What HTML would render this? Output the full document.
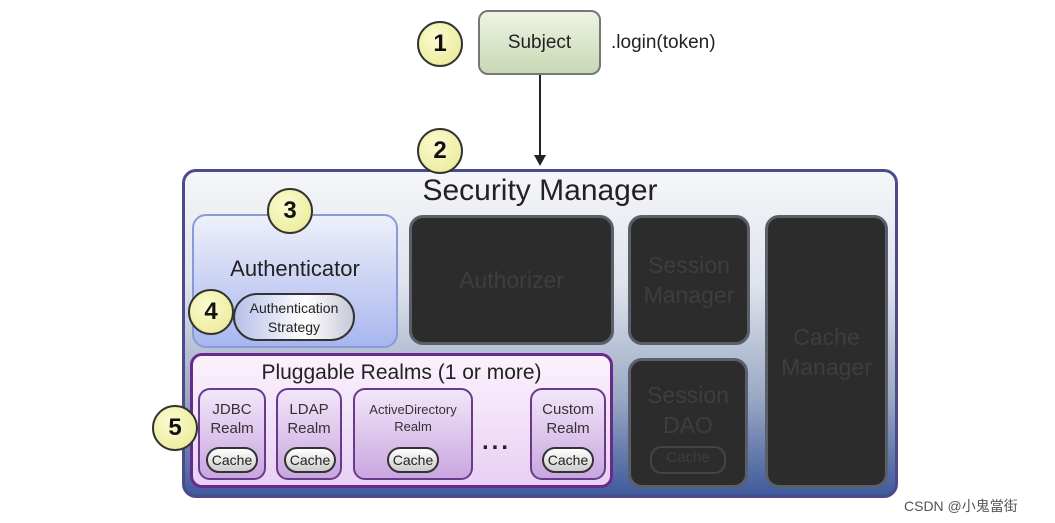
<!DOCTYPE html>
<html><head><style>
body{margin:0;width:1055px;height:523px;background:#fff;position:relative;overflow:hidden;font-family:"Liberation Sans",sans-serif;}
.a{position:absolute;box-sizing:border-box;}
.c{position:absolute;box-sizing:border-box;width:46px;height:46px;border-radius:50%;background:radial-gradient(circle at 40% 35%,#fbfbd0,#e8e890);border:2.5px solid #333;font-weight:bold;font-size:24px;display:flex;align-items:center;justify-content:center;color:#111;}
.dk{position:absolute;box-sizing:border-box;background:#2c2c2c;border:3px solid #5a5f6a;border-radius:14px;color:#3e3e3e;font-size:23px;text-align:center;display:flex;align-items:center;justify-content:center;line-height:30px;}
.r{position:absolute;box-sizing:border-box;border:2px solid #6a3a8a;border-radius:12px;background:linear-gradient(#f2e6f8,#c9a6e0);text-align:center;font-size:15px;color:#333;padding-top:10px;line-height:19px;}
.ch{position:absolute;box-sizing:border-box;height:26px;border:2px solid #333;border-radius:13px;background:linear-gradient(#fff,#ccc);font-size:14px;line-height:22px;text-align:center;color:#222;}
</style></head><body>
<div class="a" style="left:478px;top:10px;width:123px;height:65px;border:2px solid #777;border-radius:10px;background:linear-gradient(#eef4e4,#c8d8b4);font-size:19px;text-align:center;line-height:61px;color:#222">Subject</div>
<div class="c" style="left:417px;top:21px">1</div>
<div class="a" style="left:611px;top:32px;font-size:19px;color:#222">.login(token)</div>
<div class="a" style="left:539px;top:75px;width:2px;height:84px;background:#222"></div>
<div class="a" style="left:534px;top:155px;width:0;height:0;border-left:6px solid transparent;border-right:6px solid transparent;border-top:11px solid #222"></div>
<div class="a" style="left:182px;top:169px;width:716px;height:329px;border:3px solid #4a4a8c;border-radius:14px;background:linear-gradient(#f5f6f9 0%,#dfe3ec 35%,#9aa8c4 70%,#3f5a9c 100%)"></div>
<div class="c" style="left:417px;top:128px">2</div>
<div class="a" style="left:182px;top:174px;width:716px;text-align:center;font-size:30px;color:#222">Security Manager</div>
<div class="a" style="left:192px;top:214px;width:206px;height:134px;border:2px solid #8a9ad8;border-radius:14px;background:linear-gradient(#eef0fa,#a8b6ee)"></div>
<div class="a" style="left:192px;top:256px;width:206px;text-align:center;font-size:22px;color:#222">Authenticator</div>
<div class="c" style="left:267px;top:188px">3</div>
<div class="a" style="left:233px;top:293px;width:122px;height:48px;border:2px solid #333;border-radius:24px;background:linear-gradient(90deg,#b8c0e8,#fff 60%,#c8c8d8);font-size:14px;text-align:center;line-height:19px;padding-top:4px;color:#222">Authentication<br>Strategy</div>
<div class="c" style="left:188px;top:289px">4</div>
<div class="dk" style="left:409px;top:215px;width:205px;height:130px">Authorizer</div>
<div class="dk" style="left:628px;top:215px;width:122px;height:130px">Session<br>Manager</div>
<div class="dk" style="left:765px;top:215px;width:123px;height:273px">Cache<br>Manager</div>
<div class="dk" style="left:628px;top:358px;width:120px;height:130px;flex-direction:column;padding-top:8px">Session<br>DAO<div style="margin-top:6px;width:72px;height:24px;border:2px solid #444;border-radius:12px;font-size:15px;line-height:20px">Cache</div></div>
<div class="a" style="left:190px;top:353px;width:423px;height:135px;border:3px solid #6a2a8c;border-radius:12px;background:linear-gradient(#fbf2fd,#e8d0f4)"></div>
<div class="a" style="left:190px;top:361px;width:423px;text-align:center;font-size:21px;color:#222">Pluggable Realms (1 or more)</div>
<div class="r" style="left:198px;top:388px;width:68px;height:92px">JDBC<br>Realm</div>
<div class="r" style="left:276px;top:388px;width:66px;height:92px">LDAP<br>Realm</div>
<div class="r" style="left:353px;top:388px;width:120px;height:92px;font-size:13px;line-height:17px;padding-top:11px">ActiveDirectory<br>Realm</div>
<div class="r" style="left:530px;top:388px;width:76px;height:92px">Custom<br>Realm</div>
<div class="ch" style="left:206px;top:447px;width:52px">Cache</div>
<div class="ch" style="left:284px;top:447px;width:52px">Cache</div>
<div class="ch" style="left:387px;top:447px;width:52px">Cache</div>
<div class="ch" style="left:542px;top:447px;width:52px">Cache</div>
<div class="a" style="left:482px;top:428px;font-size:24px;font-weight:bold;color:#222;letter-spacing:3px">...</div>
<div class="c" style="left:152px;top:405px">5</div>
<div class="a" style="left:904px;top:496px;font-size:14px;color:#555">CSDN @小鬼當街</div>
</body></html>
